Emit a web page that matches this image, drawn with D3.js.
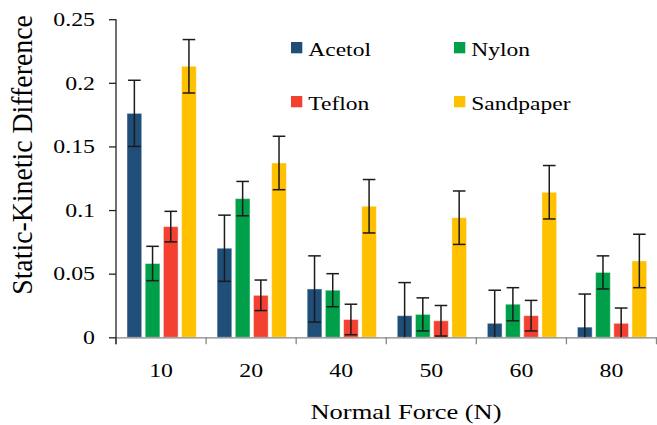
<!DOCTYPE html>
<html>
<head>
<meta charset="utf-8">
<script src="https://cdn.jsdelivr.net/npm/d3@7"></script>
<style>
body { margin: 0; background: #fff; }
text { font-family: "Liberation Serif", "Times New Roman", serif; fill: #000; }
</style>
</head>
<body>
<script>
var forces = ["10", "20", "40", "50", "60", "80"];
var seriesNames = ["Acetol", "Nylon", "Teflon", "Sandpaper"];
var seriesColors = ["#1f4e79", "#00a04b", "#f44031", "#ffc000"];

var acetol    = [0.176, 0.070, 0.038, 0.017, 0.011, 0.008];
var nylon     = [0.058, 0.109, 0.037, 0.018, 0.026, 0.051];
var teflon    = [0.087, 0.033, 0.014, 0.013, 0.017, 0.011];
var sandpaper = [0.213, 0.137, 0.103, 0.094, 0.114, 0.060];

var acetolErr    = [0.026, 0.026, 0.026, 0.026, 0.026, 0.026];
var nylonErr     = [0.0135, 0.0135, 0.013, 0.013, 0.013, 0.013];
var teflonErr    = [0.012, 0.012, 0.012, 0.012, 0.012, 0.012];
var sandpaperErr = [0.021, 0.021, 0.021, 0.021, 0.021, 0.021];

var yTicks = [0, 0.05, 0.1, 0.15, 0.2, 0.25];

var values = [acetol, nylon, teflon, sandpaper];
var errors = [acetolErr, nylonErr, teflonErr, sandpaperErr];

var width = 657, height = 425;
var sx = 1.21; // the picture is stretched sideways

var svg = d3.select("body").append("svg")
  .attr("width", width)
  .attr("height", height);

var x0 = d3.scaleBand().domain(forces).range([116, 656.5]);
var x1 = d3.scaleBand().domain(seriesNames).range([11, 80.3]).paddingInner(0.19);
var y = d3.scaleLinear().domain([0, 0.25]).range([337.3, 19.2]);

var bars = [];
forces.forEach(function(f, i) {
  seriesNames.forEach(function(s, j) {
    bars.push({force: f, series: s, color: seriesColors[j], v: values[j][i], e: errors[j][i]});
  });
});

svg.selectAll("rect.bar")
  .data(bars)
  .enter()
  .append("rect")
  .attr("class", "bar")
  .attr("x", d => x0(d.force) + x1(d.series))
  .attr("y", d => y(d.v))
  .attr("width", x1.bandwidth())
  .attr("height", d => y(0) - y(d.v))
  .attr("fill", d => d.color)
  .attr("stroke", "#fff")
  .attr("stroke-opacity", 0.45)
  .attr("stroke-width", 1);

// error bars
var cap = 6.3;
var eb = svg.selectAll("g.err")
  .data(bars)
  .enter()
  .append("g")
  .attr("class", "err")
  .attr("stroke", "#1b1b1b")
  .attr("stroke-width", 1.5);

eb.append("line")
  .attr("x1", d => x0(d.force) + x1(d.series) + x1.bandwidth() / 2)
  .attr("x2", d => x0(d.force) + x1(d.series) + x1.bandwidth() / 2)
  .attr("y1", d => y(d.v + d.e))
  .attr("y2", d => y(Math.max(0, d.v - d.e)));

eb.append("line")
  .attr("x1", d => x0(d.force) + x1(d.series) + x1.bandwidth() / 2 - cap)
  .attr("x2", d => x0(d.force) + x1(d.series) + x1.bandwidth() / 2 + cap)
  .attr("y1", d => y(d.v + d.e))
  .attr("y2", d => y(d.v + d.e));

eb.filter(d => d.v - d.e >= 0).append("line")
  .attr("x1", d => x0(d.force) + x1(d.series) + x1.bandwidth() / 2 - cap)
  .attr("x2", d => x0(d.force) + x1(d.series) + x1.bandwidth() / 2 + cap)
  .attr("y1", d => y(d.v - d.e))
  .attr("y2", d => y(d.v - d.e));

// x axis
var xAxis = svg.append("g")
  .attr("transform", "translate(0," + y(0) + ")")
  .call(d3.axisBottom(x0).tickSize(0).tickPadding(25.5));
xAxis.select(".domain").attr("stroke", "#868686").attr("stroke-width", 1.3);
xAxis.selectAll("text")
  .attr("font-size", 19.7)
  .attr("font-family", "Liberation Serif, serif")
  .attr("transform", "scale(" + sx + ",1)");

var bounds = forces.map(f => x0(f)).concat([x0.range()[1]]);
xAxis.selectAll("line.bound")
  .data(bounds)
  .enter()
  .append("line")
  .attr("class", "bound")
  .attr("x1", d => d).attr("x2", d => d)
  .attr("y1", 0).attr("y2", 7)
  .attr("stroke", "#868686")
  .attr("stroke-width", 1.3);

// y axis
var yAxis = svg.append("g")
  .attr("transform", "translate(116,0)")
  .call(d3.axisLeft(y).tickValues(yTicks).tickSize(7).tickPadding(21)
    .tickFormat(d => d === 0 ? "0" : String(+d.toFixed(2))));
yAxis.select(".domain").attr("stroke", "#222").attr("stroke-width", 1.3)
  .attr("d", "M0," + y(0.25) + "V" + (y(0) + 7));
yAxis.selectAll(".tick line").attr("stroke", "#222").attr("stroke-width", 1.3);
yAxis.selectAll("text")
  .attr("font-size", 19.7)
  .attr("font-family", "Liberation Serif, serif")
  .attr("x", -21 / sx)
  .attr("transform", "scale(" + sx + ",1)");

// legend
var legendPos = [[291, 42], [454, 42], [291, 96], [454, 96]];
var legend = svg.selectAll("g.legend")
  .data(seriesNames)
  .enter()
  .append("g")
  .attr("class", "legend")
  .attr("transform", (d, i) => "translate(" + legendPos[i][0] + "," + legendPos[i][1] + ")");

legend.append("rect")
  .attr("width", 11.3)
  .attr("height", 11.3)
  .attr("fill", (d, i) => seriesColors[i]);

legend.append("text")
  .attr("transform", "translate(17.3,13.8) scale(" + (sx - 0.01) + ",1)")
  .attr("font-size", 19.6)
  .text(d => d);

// axis titles
svg.append("text")
  .attr("transform", "translate(406,419.3) scale(1.22,1)")
  .attr("text-anchor", "middle")
  .attr("font-size", 21.7)
  .text("Normal Force (N)");

svg.append("text")
  .attr("transform", "translate(31.5,155) rotate(-90) scale(1,1.05)")
  .attr("text-anchor", "middle")
  .attr("font-size", 27.8)
  .text("Static-Kinetic Difference");
</script>
</body>
</html>
